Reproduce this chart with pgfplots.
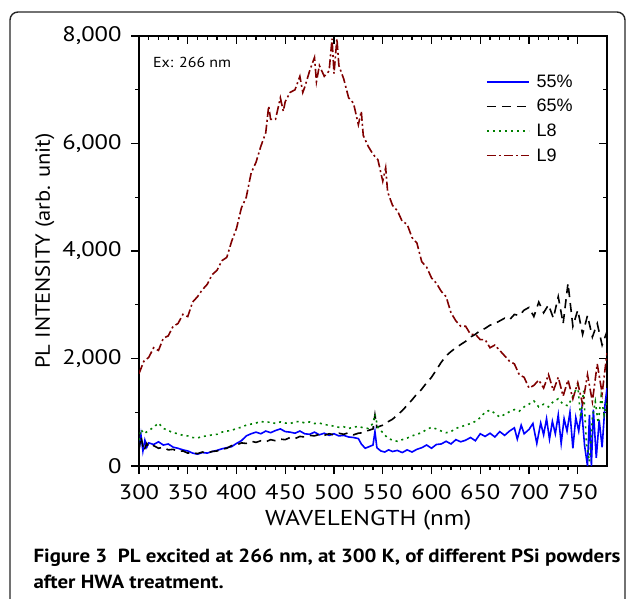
\documentclass[border=0pt]{standalone}
\usepackage{pgfplots}
\pgfplotsset{compat=1.18}
\usepackage{pgfplotstable}
\usepackage{fontspec}
\setmainfont[FakeStretch=1.1]{PT Sans}
\newfontfamily\wide[FakeStretch=1.17]{PT Sans}
\newfontfamily\arialf{Liberation Sans}
\newcommand\legfont{\arialf\fontsize{18}{21}\selectfont}

\definecolor{sblue}{RGB}{0,0,255}
\definecolor{sgreen}{RGB}{0,128,0}
\definecolor{sred}{RGB}{128,0,0}

% 55%
\pgfplotstableread{
x y
300 300
302 580
304 280
306 480
308 350
310 430
315 400
320 450
325 390
330 410
335 350
340 330
345 300
350 280
355 240
360 220
365 250
370 240
375 270
380 290
385 320
390 340
395 360
400 420
405 470
410 560
415 600
420 630
425 600
430 650
435 620
440 660
445 690
450 640
455 630
460 610
465 650
470 600
475 590
480 630
485 580
490 610
495 570
500 600
505 560
510 570
515 540
520 530
525 510
528 410
532 330
536 360
540 390
542 640
544 340
548 280
552 260
556 300
560 270
565 290
570 250
575 300
580 260
585 310
590 340
595 390
600 330
605 400
610 410
615 460
620 410
625 490
630 450
635 480
640 530
645 470
650 600
655 550
660 610
665 540
670 640
675 570
680 650
685 710
688 500
692 760
695 600
700 680
704 790
708 420
712 800
715 580
718 880
721 500
724 830
727 600
730 950
733 420
736 880
739 650
742 1000
745 330
748 900
751 650
754 1050
757 380
760 0
762 950
764 0
766 1050
769 150
772 850
775 350
778 1150
780 1450
}\tabA

% 65%
\pgfplotstableread{
x y
300 300
302 550
305 280
308 420
310 350
315 380
320 330
325 350
330 300
335 310
340 270
345 280
350 240
355 250
360 230
365 260
370 240
375 270
380 280
385 310
390 330
395 380
400 390
405 430
410 420
415 460
420 440
425 470
430 450
435 490
440 470
445 500
450 490
455 530
460 510
465 550
470 540
475 570
480 560
485 590
490 570
495 600
500 580
505 610
510 590
515 620
520 580
525 610
530 620
535 660
540 690
542 950
544 720
550 760
555 820
560 870
565 950
570 1030
575 1130
580 1230
585 1340
590 1430
595 1550
600 1650
605 1790
610 1930
615 2050
620 2130
625 2200
630 2260
635 2320
640 2400
645 2450
650 2520
655 2560
660 2620
665 2650
670 2700
675 2750
680 2720
685 2820
690 2800
695 2900
700 2950
705 2780
710 3050
715 2850
720 3000
725 2750
730 3150
735 2650
740 3400
745 2600
750 2900
755 2450
760 2800
765 2400
770 2650
775 2250
780 2500
}\tabB

% L8
\pgfplotstableread{
x y
300 480
302 680
305 600
310 660
315 720
320 800
325 700
330 660
335 620
340 600
345 570
350 560
355 530
360 520
365 550
370 560
375 580
380 590
385 630
390 650
395 660
400 700
405 720
410 760
415 780
420 800
425 830
430 810
435 820
440 790
445 820
450 800
455 790
460 820
465 830
470 800
475 820
480 790
485 800
490 770
495 760
500 740
505 720
510 730
515 700
520 720
525 740
530 710
535 700
540 790
542 960
545 720
550 620
555 520
560 480
565 460
570 490
575 520
580 560
585 590
590 620
595 680
600 720
605 690
610 650
615 620
620 640
625 700
630 730
635 760
640 790
645 830
650 900
655 1000
660 1040
665 980
670 910
675 960
680 1010
685 1050
690 1020
695 1100
700 1150
705 1210
710 1100
715 1150
720 1100
725 1200
730 1250
735 1150
740 1120
745 1300
750 1500
753 900
756 1400
759 400
762 80
765 900
768 1200
771 800
774 1300
777 950
780 1200
}\tabC

% L9
\pgfplotstableread{
x y
300 1720
305 1950
310 2020
315 2200
320 2150
325 2380
330 2420
335 2600
340 2650
345 2820
350 2780
355 3050
360 3150
365 3280
370 3380
375 3560
380 3640
385 3820
390 3880
395 4180
400 4420
405 4800
410 5000
415 5450
420 5650
425 5950
430 6200
433 6700
435 6450
440 6450
445 6850
448 6600
450 6780
455 6950
460 7000
465 7250
468 6950
470 7050
475 7350
480 7600
482 7150
485 7450
490 7250
495 7350
498 7950
500 7300
503 7950
505 7450
510 7200
515 6850
520 6750
525 6350
528 6600
530 6150
535 5950
540 5800
545 5700
550 5300
553 5550
555 5100
560 4850
565 4750
570 4550
575 4500
580 4250
585 4150
590 3800
595 3700
600 3500
605 3400
610 3250
615 3150
620 2850
625 2700
630 2600
635 2600
640 2450
645 2450
650 2350
655 2350
660 2200
665 2250
670 2150
675 2050
680 1950
685 1900
690 1700
695 1650
700 1450
705 1500
710 1600
715 1450
720 1700
725 1400
730 1650
735 1300
740 1600
745 1250
750 1550
755 1150
760 1700
765 1200
770 1900
775 1350
780 2100
}\tabD

\pgfplotsset{
  framestyle/.style={
    at={(139pt,132pt)}, anchor=south west,
    scale only axis, width=468pt, height=430pt,
    xmin=300, xmax=780, ymin=0, ymax=8000,
    axis line style={line width=1.4pt},
    major tick length=8pt, minor tick length=4pt,
    every tick/.style={black, line width=1.2pt},
    xtick={300,350,...,750}, minor x tick num=4,
    ytick={0,2000,...,8000}, minor y tick num=1,
  },
}

\begin{document}
\begin{tikzpicture}
\useasboundingbox (0,0) rectangle (629pt,598pt);
\draw[line width=1.4pt, rounded corners=8pt, black!85] (10pt,-30pt) rectangle (625pt,586pt);

% ticks on top and right, pointing inwards
\begin{axis}[framestyle, xtick pos=top, ytick pos=right, tick align=inside,
  xticklabels={}, yticklabels={}]
\end{axis}

\begin{axis}[framestyle,
  xtick pos=bottom, ytick pos=left, tick align=outside,
  /pgf/number format/assume math mode=true,
  /pgf/number format/1000 sep={,},
  scaled y ticks=false,
  tick label style={font=\wide\fontsize{21}{25}\selectfont},
  xticklabel style={yshift=-7pt},
  yticklabel style={xshift=-6pt},
  xlabel={WAVELENGTH (nm)},
  ylabel={PL INTENSITY (arb. unit)},
  every axis x label/.style={at={(axis description cs:0.49,-0.1256)}, anchor=center,
    font=\wide\fontsize{21.5}{25}\selectfont},
  every axis y label/.style={at={(axis description cs:-0.201,0.5)}, anchor=center, rotate=90,
    font=\fontsize{20.5}{25}\selectfont},
  legend style={draw=none, fill=none, at={(axis description cs:0.739,0.945)}, anchor=north west,
    row sep=6.5pt, inner sep=1pt},
  legend cell align=left,
  legend image code/.code={\draw[#1] plot coordinates {(0pt,0pt) (21pt,0pt) (42pt,0pt)}; \path (47pt,0pt);},
]
% empty first legend row: the first legend cell loses its line style
\addlegendimage{legend image code/.code={\path (0pt,0pt) (47pt,0pt);}}
\addlegendentry{}
\addplot[color=sblue, line width=1.6pt] table {\tabA};
\addlegendentry{\legfont 55\%}
\addplot[color=black, line width=1.6pt, dash pattern=on 9pt off 6pt] table {\tabB};
\addlegendentry{\legfont 65\%}
\addplot[color=sgreen, line width=1.6pt, dash pattern=on 2pt off 4pt] table {\tabC};
\addlegendentry{\legfont L8}
\addplot[color=sred, line width=1.6pt, dash pattern=on 9pt off 3pt on 2pt off 3pt] table {\tabD};
\addlegendentry{\legfont L9}
\node[anchor=west, inner sep=0pt, font=\fontsize{14.5}{18}\selectfont] at (axis description cs:0.0299,0.9395) {Ex: 266 nm};
\end{axis}

\node[anchor=base west, font=\bfseries\fontsize{19}{23}\selectfont] at (30pt,36pt)
  {Figure 3\ \ PL excited at 266 nm, at 300 K, of different PSi powders};
\node[anchor=base west, font=\bfseries\fontsize{19}{23}\selectfont] at (30pt,10pt)
  {after HWA treatment.};
\end{tikzpicture}
\end{document}
